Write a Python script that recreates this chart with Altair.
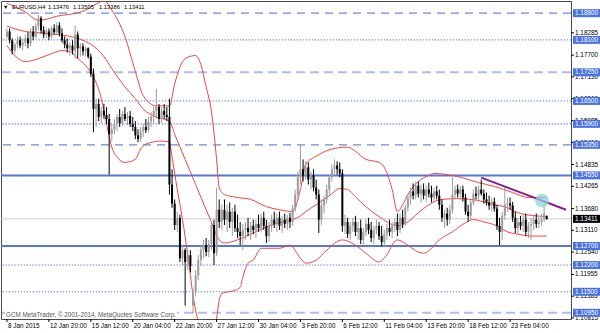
import altair as alt
import pandas as pd

# ---------------- data (EURUSD H4) ----------------
opens = [1.1819,1.1832,1.1809,1.1782,1.1798,1.1809,1.1795,1.1803,1.1814,1.1801,
1.1832,1.1819,1.1846,1.1867,1.1835,1.1824,1.1832,1.1819,1.1840,1.1830,
1.1848,1.1827,1.1809,1.1798,1.1788,1.1795,1.1782,1.1824,1.1788,1.1793,
1.1780,1.1788,1.1766,1.1721,1.1629,1.1642,1.1608,1.1624,1.1613,1.1603,
1.1563,1.1576,1.1590,1.1608,1.1592,1.1616,1.1603,1.1611,1.1590,1.1582,
1.1560,1.1550,1.1571,1.1582,1.1574,1.1597,1.1608,1.1624,1.1634,1.1603,
1.1624,1.1613,1.1608,1.1431,1.1381,1.1325,1.1344,1.1238,1.1259,1.1228,
1.1246,1.1114,1.1149,1.1193,1.1233,1.1259,1.1272,1.1254,1.1275,1.1325,
1.1251,1.1365,1.1333,1.1365,1.1339,1.1360,1.1333,1.1360,1.1317,1.1307,
1.1296,1.1312,1.1317,1.1307,1.1323,1.1312,1.1328,1.1317,1.1344,1.1323,
1.1296,1.1323,1.1339,1.1328,1.1344,1.1323,1.1339,1.1328,1.1344,1.1333,
1.1370,1.1405,1.1450,1.1471,1.1455,1.1476,1.1444,1.1455,1.1423,1.1405,
1.1339,1.1376,1.1392,1.1418,1.1450,1.1471,1.1481,1.1471,1.1460,1.1323,
1.1333,1.1301,1.1323,1.1333,1.1307,1.1317,1.1286,1.1307,1.1328,1.1312,
1.1291,1.1312,1.1323,1.1296,1.1280,1.1301,1.1317,1.1307,1.1323,1.1333,
1.1312,1.1344,1.1328,1.1370,1.1397,1.1413,1.1402,1.1428,1.1407,1.1418,
1.1402,1.1418,1.1407,1.1397,1.1413,1.1402,1.1378,1.1344,1.1355,1.1339,
1.1365,1.1405,1.1418,1.1407,1.1418,1.1397,1.1360,1.1349,1.1384,1.1407,
1.1402,1.1418,1.1407,1.1392,1.1384,1.1376,1.1386,1.1368,1.1323,1.1307,
1.1349,1.1378,1.1381,1.1376,1.1344,1.1317,1.1333,1.1323,1.1339,1.1307,
1.1323,1.1328,1.1339,1.1328,1.1333,1.1341,1.13476]
highs = [1.1840,1.1840,1.1814,1.1803,1.1819,1.1819,1.1814,1.1824,1.1830,1.1840,
1.1846,1.1854,1.1875,1.1872,1.1846,1.1840,1.1840,1.1846,1.1851,1.1856,
1.1856,1.1840,1.1819,1.1814,1.1803,1.1809,1.1848,1.1832,1.1801,1.1801,
1.1793,1.1790,1.1774,1.1735,1.1656,1.1656,1.1634,1.1642,1.1634,1.1616,
1.1590,1.1603,1.1616,1.1629,1.1624,1.1634,1.1621,1.1624,1.1608,1.1597,
1.1576,1.1582,1.1590,1.1603,1.1608,1.1621,1.1634,1.1682,1.1642,1.1634,
1.1642,1.1634,1.1656,1.1471,1.1392,1.1360,1.1352,1.1272,1.1264,1.1259,
1.1259,1.1159,1.1207,1.1246,1.1272,1.1286,1.1291,1.1286,1.1333,1.1339,
1.1423,1.1392,1.1378,1.1392,1.1378,1.1384,1.1370,1.1378,1.1352,1.1333,
1.1328,1.1333,1.1344,1.1333,1.1339,1.1339,1.1352,1.1355,1.1360,1.1339,
1.1333,1.1352,1.1360,1.1355,1.1360,1.1349,1.1355,1.1352,1.1357,1.1378,
1.1418,1.1465,1.1537,1.1497,1.1492,1.1489,1.1465,1.1471,1.1444,1.1418,
1.1392,1.1402,1.1431,1.1457,1.1484,1.1497,1.1492,1.1489,1.1471,1.1352,
1.1344,1.1333,1.1344,1.1349,1.1333,1.1339,1.1317,1.1339,1.1344,1.1333,
1.1323,1.1339,1.1333,1.1323,1.1312,1.1328,1.1339,1.1333,1.1344,1.1355,
1.1355,1.1365,1.1378,1.1405,1.1423,1.1434,1.1439,1.1439,1.1431,1.1434,
1.1428,1.1436,1.1428,1.1423,1.1428,1.1418,1.1392,1.1365,1.1370,1.1378,
1.1450,1.1428,1.1431,1.1428,1.1428,1.1407,1.1378,1.1392,1.1418,1.1426,
1.1428,1.1444,1.1418,1.1410,1.1402,1.1397,1.1397,1.1378,1.1344,1.1360,
1.1426,1.1397,1.1397,1.1386,1.1360,1.1344,1.1349,1.1352,1.1355,1.1333,
1.1344,1.1349,1.1355,1.1349,1.1355,1.1392,1.13505]
lows = [1.1814,1.1801,1.1772,1.1774,1.1788,1.1788,1.1782,1.1793,1.1788,1.1793,
1.1809,1.1814,1.1835,1.1827,1.1814,1.1814,1.1809,1.1814,1.1824,1.1824,
1.1819,1.1803,1.1788,1.1777,1.1769,1.1772,1.1761,1.1761,1.1766,1.1769,
1.1766,1.1761,1.1713,1.1568,1.1582,1.1597,1.1592,1.1603,1.1590,1.1457,
1.1545,1.1563,1.1571,1.1582,1.1584,1.1597,1.1587,1.1582,1.1571,1.1550,
1.1542,1.1542,1.1555,1.1566,1.1568,1.1582,1.1592,1.1603,1.1590,1.1592,
1.1603,1.1597,1.1405,1.1370,1.1312,1.1307,1.1228,1.1220,1.1114,1.1207,
1.1201,1.1093,1.1138,1.1180,1.1217,1.1238,1.1243,1.1241,1.1259,1.1220,
1.1243,1.1317,1.1312,1.1325,1.1307,1.1317,1.1296,1.1307,1.1291,1.1272,
1.1259,1.1286,1.1296,1.1286,1.1301,1.1291,1.1307,1.1307,1.1312,1.1278,
1.1280,1.1307,1.1317,1.1307,1.1312,1.1304,1.1317,1.1312,1.1317,1.1323,
1.1360,1.1392,1.1431,1.1439,1.1444,1.1431,1.1418,1.1413,1.1392,1.1304,
1.1325,1.1355,1.1381,1.1405,1.1439,1.1455,1.1457,1.1450,1.1307,1.1301,
1.1291,1.1286,1.1307,1.1296,1.1286,1.1275,1.1270,1.1296,1.1301,1.1280,
1.1275,1.1301,1.1286,1.1270,1.1267,1.1286,1.1296,1.1291,1.1307,1.1296,
1.1304,1.1317,1.1323,1.1360,1.1378,1.1392,1.1392,1.1397,1.1384,1.1392,
1.1386,1.1397,1.1384,1.1386,1.1392,1.1365,1.1333,1.1317,1.1323,1.1328,
1.1355,1.1392,1.1397,1.1392,1.1386,1.1352,1.1333,1.1339,1.1376,1.1392,
1.1386,1.1402,1.1381,1.1376,1.1365,1.1360,1.1360,1.1312,1.1272,1.1286,
1.1339,1.1360,1.1365,1.1333,1.1304,1.1301,1.1312,1.1307,1.1296,1.1291,
1.1286,1.1312,1.1317,1.1317,1.1323,1.1333,1.13386]
closes = [1.1832,1.1809,1.1782,1.1798,1.1809,1.1795,1.1803,1.1814,1.1801,1.1832,
1.1819,1.1846,1.1867,1.1835,1.1824,1.1832,1.1819,1.1840,1.1830,1.1848,
1.1827,1.1809,1.1798,1.1788,1.1795,1.1782,1.1824,1.1788,1.1793,1.1780,
1.1788,1.1766,1.1721,1.1629,1.1642,1.1608,1.1624,1.1613,1.1603,1.1563,
1.1576,1.1590,1.1608,1.1592,1.1616,1.1603,1.1611,1.1590,1.1582,1.1560,
1.1550,1.1571,1.1582,1.1574,1.1597,1.1608,1.1624,1.1634,1.1603,1.1624,
1.1613,1.1608,1.1431,1.1381,1.1325,1.1344,1.1238,1.1259,1.1228,1.1246,
1.1217,1.1149,1.1193,1.1233,1.1259,1.1272,1.1254,1.1275,1.1325,1.1251,
1.1365,1.1333,1.1365,1.1339,1.1360,1.1333,1.1360,1.1317,1.1307,1.1296,
1.1312,1.1317,1.1307,1.1323,1.1312,1.1328,1.1317,1.1344,1.1323,1.1296,
1.1323,1.1339,1.1328,1.1344,1.1323,1.1339,1.1328,1.1344,1.1333,1.1370,
1.1405,1.1450,1.1471,1.1455,1.1476,1.1444,1.1455,1.1423,1.1405,1.1339,
1.1376,1.1392,1.1418,1.1450,1.1471,1.1481,1.1471,1.1460,1.1323,1.1333,
1.1301,1.1323,1.1333,1.1307,1.1317,1.1286,1.1307,1.1328,1.1312,1.1291,
1.1312,1.1323,1.1296,1.1280,1.1301,1.1317,1.1307,1.1323,1.1333,1.1312,
1.1344,1.1328,1.1370,1.1397,1.1413,1.1402,1.1428,1.1407,1.1418,1.1402,
1.1418,1.1407,1.1397,1.1413,1.1402,1.1378,1.1344,1.1355,1.1339,1.1365,
1.1405,1.1418,1.1407,1.1418,1.1397,1.1360,1.1349,1.1384,1.1407,1.1402,
1.1418,1.1407,1.1392,1.1384,1.1376,1.1386,1.1368,1.1323,1.1307,1.1349,
1.1378,1.1381,1.1376,1.1344,1.1317,1.1333,1.1323,1.1339,1.1307,1.1323,
1.1328,1.1339,1.1328,1.1333,1.1341,1.1355,1.13411]

# Bollinger bands (20, 2) at selected bars
upper_i = [0,7,12,15,19,24,30,34,37,40,45,49,52,57,62,64,68,72,74,76,78,80,81,83,88,93,99,104,109,112,114,118,124,130,133,137,142,144,147,149,151,153,157,161,163,168,172,180,186,193,199,206]
upper_p = [1.1906,1.1883,1.1861,1.1864,1.1872,1.1877,1.1888,1.1904,1.1912,1.1888,1.1819,1.1727,1.1664,1.1637,1.1637,1.1695,1.1761,1.1769,1.1745,1.1687,1.1624,1.1497,1.1423,1.1405,1.1397,1.1392,1.1373,1.1365,1.1360,1.1418,1.1484,1.1505,1.1524,1.1529,1.1518,1.1497,1.1489,1.1476,1.1418,1.1360,1.1378,1.1405,1.1439,1.1455,1.1460,1.1457,1.1452,1.1436,1.1426,1.1410,1.1397,1.1397]
mid_i = [0,7,15,24,30,34,37,40,45,49,52,57,62,64,68,72,76,78,81,83,88,93,99,104,109,112,114,118,124,127,130,133,137,142,149,153,157,161,166,172,180,186,190,196,206]
mid_p = [1.1846,1.1832,1.1827,1.1819,1.1806,1.1788,1.1766,1.1735,1.1687,1.1656,1.1629,1.1608,1.1597,1.1563,1.1497,1.1431,1.1365,1.1333,1.1286,1.1278,1.1286,1.1301,1.1320,1.1331,1.1339,1.1349,1.1360,1.1378,1.1407,1.1421,1.1418,1.1399,1.1373,1.1347,1.1323,1.1333,1.1357,1.1378,1.1392,1.1394,1.1389,1.1378,1.1373,1.1355,1.1347]
lower_i = [0,3,7,12,17,21,24,27,30,33,36,38,40,42,45,49,51,53,59,62,63,65,67,69,71,73,76,79,80,81,82,87,89,90,92,94,97,100,104,108,112,114,118,122,128,133,137,142,144,149,153,157,159,162,165,170,175,178,182,187,191,195,200,206]
lower_p = [1.1795,1.1769,1.1753,1.1761,1.1774,1.1782,1.1780,1.1761,1.1743,1.1714,1.1656,1.1590,1.1529,1.1503,1.1489,1.1497,1.1524,1.1537,1.1545,1.1542,1.1503,1.1418,1.1339,1.1246,1.1141,1.1070,1.1009,1.1035,1.1080,1.1128,1.1146,1.1154,1.1162,1.1188,1.1225,1.1233,1.1264,1.1264,1.1264,1.1272,1.1238,1.1225,1.1233,1.1259,1.1286,1.1272,1.1251,1.1228,1.1238,1.1286,1.1272,1.1254,1.1251,1.1264,1.1286,1.1307,1.1331,1.1339,1.1333,1.1323,1.1307,1.1301,1.1296,1.1296]

levels = [1.1880, 1.1810, 1.1725, 1.1650, 1.1590, 1.1535, 1.1455, 1.1270, 1.1220, 1.1150, 1.1095]
level_style = ["dash", "dot", "dashl", "dot", "dotl", "dash", "solid", "solid", "dotl", "dot", "dashl"]
axis_ticks = [1.18285, 1.17700, 1.17130, 1.16560, 1.15985, 1.15410, 1.14835, 1.14265,
              1.13680, 1.13110, 1.12540, 1.11955, 1.11385, 1.10815]
date_pos = [0, 16, 32, 48, 64, 80, 96, 112, 128, 144, 160, 176, 192]
date_labels = ["8 Jan 2015", "12 Jan 20:00", "15 Jan 12:00", "20 Jan 04:00", "22 Jan 20:00",
               "27 Jan 12:00", "30 Jan 04:00", "3 Feb 20:00", "6 Feb 12:00", "11 Feb 04:00",
               "13 Feb 20:00", "18 Feb 12:00", "23 Feb 04:00"]
last_price = 1.13411
trend_i = [181, 213.35]
trend_p = [1.1449, 1.1365]
mark_i = [204.2]
mark_p = [1.1389]

# ---------------- chart ----------------
FONT = "Liberation Sans"
xs = alt.Scale(domain=[-0.375, 213.35], nice=False, zero=False)
ys = alt.Scale(domain=[1.10787, 1.19119], nice=False, zero=False)

def X(f="i"):
    return alt.X(f"{f}:Q", scale=xs, axis=None)

def Y(f="p"):
    return alt.Y(f"{f}:Q", scale=ys, axis=None)

df = pd.DataFrame({"i": list(range(len(closes))), "o": opens, "h": highs, "l": lows, "c": closes})
df["dir"] = ["up" if c >= o else "down" for o, c in zip(opens, closes)]
col = alt.Color("dir:N", scale=alt.Scale(domain=["up", "down"], range=["#9c9c9c", "#000000"]), legend=None)

lv = pd.DataFrame({"p": levels, "s": level_style, "t": [f"{v:.5f}" for v in levels]})
styles = {
    "dash": dict(color="#7088da", strokeWidth=1.2, strokeDash=[8, 6]),
    "dot": dict(color="#5e7be2", strokeWidth=1, strokeDash=[1.3, 1.7]),
    "dashl": dict(color="#aebdf0", strokeWidth=2, strokeDash=[9, 5]),
    "dotl": dict(color="#9fb1f0", strokeWidth=1.6, strokeDash=[1.5, 1.5]),
    "solid": dict(color="#5577dd", strokeWidth=2),
}

layers = []
# current price line
layers.append(alt.Chart(pd.DataFrame({"p": [last_price]})).mark_rule(color="#cfcfcf", strokeWidth=1).encode(y=Y()))
for s, kw in styles.items():
    layers.append(alt.Chart(lv).transform_filter(alt.datum.s == s).mark_rule(**kw).encode(y=Y()))

# bands
for bi, bp in [(upper_i, upper_p), (mid_i, mid_p), (lower_i, lower_p)]:
    bdf = pd.DataFrame({"i": bi, "p": bp})
    layers.append(alt.Chart(bdf).mark_line(color="#f2453f", strokeWidth=1, interpolate="monotone", clip=True)
                  .encode(x=X(), y=Y()))

# candles
base = alt.Chart(df)
layers.append(base.mark_rule(strokeWidth=1, clip=True).encode(x=X(), y=Y("l"), y2="h:Q", color=col))
layers.append(base.mark_bar(size=2, clip=True).encode(x=X(), y=Y("o"), y2="c:Q", color=col))

# trend line and marker
layers.append(alt.Chart(pd.DataFrame({"i": trend_i, "p": trend_p})).mark_line(color="#8a1c8e", strokeWidth=2, clip=True)
              .encode(x=X(), y=Y()))
layers.append(alt.Chart(pd.DataFrame({"i": mark_i, "p": mark_p})).mark_circle(size=190, color="#8fd3dc", opacity=0.75)
              .encode(x=X(), y=Y()))

# right price scale
tk = pd.DataFrame({"p": axis_ticks, "t": [f"{v:.5f}" for v in axis_ticks]})
layers.append(alt.Chart(tk).mark_rule(color="#000", strokeWidth=1).encode(x=alt.value(570), x2=alt.value(573), y=Y()))
layers.append(alt.Chart(tk).mark_text(align="left", baseline="middle", font=FONT, fontSize=6.4, color="#000")
              .encode(x=alt.value(574), y=Y(), text="t:N"))
layers.append(alt.Chart(lv).mark_rule(color="#4a72e3", strokeWidth=8, strokeCap="butt")
              .encode(x=alt.value(572), x2=alt.value(599), y=Y()))
layers.append(alt.Chart(lv).mark_text(align="left", baseline="middle", font=FONT, fontSize=6.4, color="#ffffff")
              .encode(x=alt.value(574), y=Y(), text="t:N"))
lp = pd.DataFrame({"p": [last_price], "t": [f"{last_price:.5f}"]})
layers.append(alt.Chart(lp).mark_rule(color="#000000", strokeWidth=8, strokeCap="butt")
              .encode(x=alt.value(572), x2=alt.value(599), y=Y()))
layers.append(alt.Chart(lp).mark_text(align="left", baseline="middle", font=FONT, fontSize=6.4, color="#ffffff")
              .encode(x=alt.value(574), y=Y(), text="t:N"))

# time scale
dt = pd.DataFrame({"i": date_pos, "t": date_labels})
layers.append(alt.Chart(dt).mark_rule(color="#000", strokeWidth=1).encode(x=X(), y=alt.value(318), y2=alt.value(321)))
layers.append(alt.Chart(dt).mark_text(align="left", baseline="middle", font=FONT, fontSize=6.4, color="#000", dx=1)
              .encode(x=X(), y=alt.value(324.5), text="t:N"))

# header and copyright
hdr = pd.DataFrame({"x": [11, 47, 72, 98, 123],
                    "t": ["EURUSD,H4", "1.13476", "1.13505", "1.13386", "1.13411"]})
layers.append(alt.Chart(pd.DataFrame({"t": ["\u25bc"]})).mark_text(align="left", baseline="middle", font=FONT, fontSize=5.5, color="#000")
              .encode(x=alt.value(2), y=alt.value(5.5), text="t:N"))
layers.append(alt.Chart(hdr).mark_text(align="left", baseline="middle", font=FONT, fontSize=5.8, color="#000")
              .encode(x=alt.X("x:Q", scale=None), y=alt.value(5.5), text="t:N"))
cp = pd.DataFrame({"t": ["GCM MetaTrader, \u00a9 2001-2014, MetaQuotes Software Corp."]})
layers.append(alt.Chart(cp).mark_rule(color="#ffffff", strokeWidth=7, strokeCap="butt")
              .encode(x=alt.value(4), x2=alt.value(176), y=alt.value(313)))
layers.append(alt.Chart(cp).mark_text(align="left", baseline="middle", font=FONT, fontSize=6.3, color="#555555")
              .encode(x=alt.value(5), y=alt.value(313.5), text="t:N"))

chart = alt.layer(*layers).properties(
    width=570, height=318,
    padding={"left": 1, "top": 1, "right": 29, "bottom": 14},
    autosize=alt.AutoSizeParams(type="none"),
    background="#ffffff",
).configure_view(stroke="#4a4a4a", strokeWidth=1)

chart.save("out.html", embed_options={"renderer": "svg", "actions": False})
